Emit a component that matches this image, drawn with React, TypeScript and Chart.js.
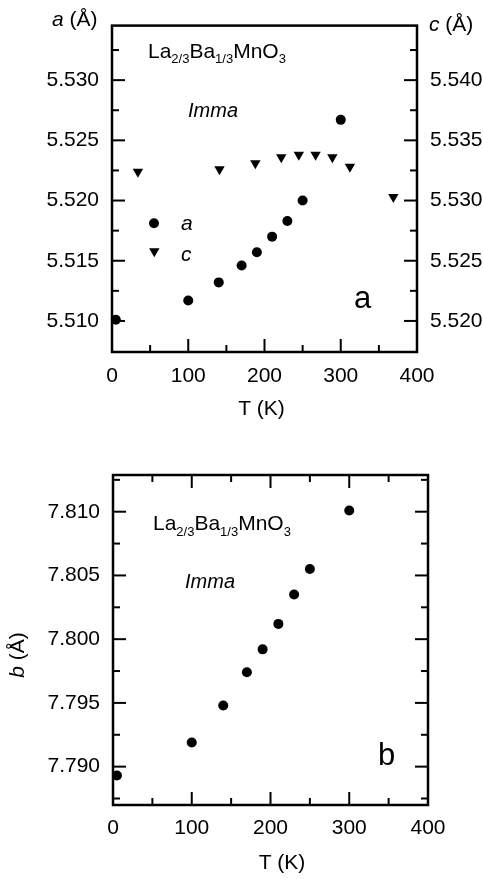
import React, { useEffect, useRef } from "react";
import { Chart, registerables } from "chart.js";

Chart.register(...registerables);

const FONT = '"Liberation Sans", Arial, Helvetica, sans-serif';

// ---- data ----
const temperatures = [5, 100, 140, 170, 190, 210, 230, 250, 300];
const latticeA = [5.5101, 5.5117, 5.5132, 5.5146, 5.5157, 5.517, 5.5183, 5.52, 5.5267];
const temperaturesC = [34, 141, 188, 222, 245, 267, 289, 312, 369];
const latticeC = [5.5324, 5.5326, 5.5331, 5.5336, 5.5338, 5.5338, 5.5336, 5.5328, 5.5303];
const latticeB = [7.7893, 7.7919, 7.7948, 7.7974, 7.7992, 7.8012, 7.8035, 7.8055, 7.8101];

const xTicks = [0, 100, 200, 300, 400];
const aTicks = [5.51, 5.515, 5.52, 5.525, 5.53];
const cTicks = [5.52, 5.525, 5.53, 5.535, 5.54];
const bTicks = [7.79, 7.795, 7.8, 7.805, 7.81];

const FS = 21;

type Seg = { t: string; italic?: boolean; size?: number; dy?: number };
type TextItem = { x: number; y: number; segs: Seg[]; align?: "left" | "center"; rotate?: boolean };
type Side = { scale: string; half: number } | null;

const segFont = (s: Seg) => `${s.italic ? "italic " : ""}${s.size || FS}px ${FONT}`;

function drawRich(ctx: CanvasRenderingContext2D, item: TextItem) {
  ctx.save();
  const widths = item.segs.map((s) => {
    ctx.font = segFont(s);
    return ctx.measureText(s.t).width;
  });
  const total = widths.reduce((a, b) => a + b, 0);
  ctx.translate(item.x, item.y);
  if (item.rotate) ctx.rotate(-Math.PI / 2);
  let x = item.align === "center" ? -total / 2 : 0;
  ctx.fillStyle = "#000";
  ctx.textAlign = "left";
  ctx.textBaseline = "alphabetic";
  item.segs.forEach((s, i) => {
    ctx.font = segFont(s);
    ctx.fillText(s.t, x, s.dy || 0);
    x += widths[i];
  });
  ctx.restore();
}

const formula = (): Seg[] => [
  { t: "La" },
  { t: "2/3", size: 13, dy: 5.5 },
  { t: "Ba" },
  { t: "1/3", size: 13, dy: 5.5 },
  { t: "MnO" },
  { t: "3", size: 13, dy: 5.5 },
];

const framePlugin = {
  id: "frameTicks",
  afterDraw(chart: any, _args: any, opts: any) {
    const ctx: CanvasRenderingContext2D = chart.ctx;
    const ca = chart.chartArea;
    const MAJ = 13;
    const MIN = 7;
    ctx.save();
    ctx.strokeStyle = "#000";
    ctx.lineWidth = 2;
    const sides: Record<string, Side> = opts.sides || {};
    Object.keys(sides).forEach((side) => {
      const cfg = sides[side];
      if (!cfg) return;
      const sc = chart.scales[cfg.scale];
      const k0 = Math.ceil(sc.min / cfg.half - 1e-6);
      const k1 = Math.floor(sc.max / cfg.half + 1e-6);
      for (let k = k0; k <= k1; k++) {
        const len = k % 2 === 0 ? MAJ : MIN;
        const p = sc.getPixelForValue(k * cfg.half);
        ctx.beginPath();
        if (side === "left" || side === "right") {
          if (p < ca.top + 2 || p > ca.bottom - 2) continue;
          const x0 = side === "left" ? ca.left : ca.right;
          const x1 = side === "left" ? ca.left + len : ca.right - len;
          ctx.moveTo(x0, p);
          ctx.lineTo(x1, p);
        } else {
          if (p < ca.left + 2 || p > ca.right - 2) continue;
          const y0 = side === "bottom" ? ca.bottom : ca.top;
          const y1 = side === "bottom" ? ca.bottom - len : ca.top + len;
          ctx.moveTo(p, y0);
          ctx.lineTo(p, y1);
        }
        ctx.stroke();
      }
    });
    ctx.lineWidth = 2.5;
    ctx.strokeRect(ca.left, ca.top, ca.right - ca.left, ca.bottom - ca.top);

    // legend markers
    (opts.markers || []).forEach((m: any) => {
      ctx.fillStyle = "#000";
      ctx.beginPath();
      if (m.kind === "circle") {
        ctx.arc(m.x, m.y, 5, 0, Math.PI * 2);
      } else {
        const r = 6;
        ctx.moveTo(m.x, m.y + r);
        ctx.lineTo(m.x - r * Math.sin(Math.PI / 3), m.y - r / 2);
        ctx.lineTo(m.x + r * Math.sin(Math.PI / 3), m.y - r / 2);
        ctx.closePath();
      }
      ctx.fill();
    });

    (opts.texts || []).forEach((t: TextItem) => drawRich(ctx, t));
    ctx.restore();
  },
};

function yScale(ticksArr: number[], min: number, max: number, position: string, width: number) {
  return {
    type: "linear",
    position,
    min,
    max,
    grid: { display: false, drawTicks: false },
    border: { display: false },
    afterBuildTicks: (s: any) => {
      s.ticks = ticksArr.map((v) => ({ value: v }));
    },
    afterFit: (s: any) => {
      s.width = width;
    },
    ticks: {
      color: "#000",
      padding: 13,
      font: { family: FONT, size: FS },
      callback: (v: any) => Number(v).toFixed(3),
    },
  };
}

function xScale(height: number, padding: number) {
  return {
    type: "linear",
    position: "bottom",
    min: 0,
    max: 400,
    grid: { display: false, drawTicks: false },
    border: { display: false },
    afterBuildTicks: (s: any) => {
      s.ticks = xTicks.map((v) => ({ value: v }));
    },
    afterFit: (s: any) => {
      s.height = height;
    },
    ticks: {
      color: "#000",
      padding,
      maxRotation: 0,
      font: { family: FONT, size: FS },
      callback: (v: any) => String(v),
    },
  };
}

function TopPanel() {
  const ref = useRef<HTMLCanvasElement | null>(null);
  useEffect(() => {
    if (!ref.current) return;
    const chart = new Chart(ref.current, {
      type: "scatter",
      data: {
        datasets: [
          {
            label: "a",
            data: temperatures.map((t, i) => ({ x: t, y: latticeA[i] })),
            yAxisID: "y",
            pointStyle: "circle",
            pointRadius: 5,
            pointBorderWidth: 0,
            backgroundColor: "#000",
            borderColor: "#000",
            clip: false,
          },
          {
            label: "c",
            data: temperaturesC.map((t, i) => ({ x: t, y: latticeC[i] })),
            yAxisID: "y2",
            pointStyle: "triangle",
            pointRotation: 180,
            pointRadius: 6,
            pointBorderWidth: 0,
            backgroundColor: "#000",
            borderColor: "#000",
            clip: false,
          },
        ],
      },
      options: {
        animation: false,
        responsive: false,
        devicePixelRatio: 1,
        layout: { padding: { top: 18, left: 0, right: 0, bottom: 0 } },
        scales: {
          x: xScale(88, 12),
          y: yScale(aTicks, 5.50742, 5.53453, "left", 112),
          y2: yScale(cTicks, 5.51742, 5.54453, "right", 66),
        } as any,
        plugins: {
          legend: { display: false },
          tooltip: { enabled: false },
          frameTicks: {
            sides: {
              left: { scale: "y", half: 0.0025 },
              right: { scale: "y2", half: 0.0025 },
              bottom: { scale: "x", half: 50 },
            },
            markers: [
              { kind: "circle", x: 154, y: 223.3 },
              { kind: "triangle", x: 154.3, y: 251.3 },
            ],
            texts: [
              { x: 148, y: 57.5, segs: formula() },
              { x: 188, y: 116.7, segs: [{ t: "Imma", italic: true, size: 20 }] },
              { x: 181, y: 230, segs: [{ t: "a", italic: true }] },
              { x: 181, y: 260.7, segs: [{ t: "c", italic: true }] },
              { x: 354, y: 308, segs: [{ t: "a", size: 31 }] },
              { x: 52, y: 26, segs: [{ t: "a", italic: true }, { t: " (Å)" }] },
              { x: 429, y: 31, segs: [{ t: "c", italic: true }, { t: " (Å)" }] },
              { x: 261.5, y: 415, align: "center", segs: [{ t: "T (K)" }] },
            ],
          },
        } as any,
      },
      plugins: [framePlugin],
    } as any);
    return () => chart.destroy();
  }, []);
  return <canvas ref={ref} width={483} height={440} style={{ display: "block", width: 483, height: 440 }} />;
}

function BottomPanel() {
  const ref = useRef<HTMLCanvasElement | null>(null);
  useEffect(() => {
    if (!ref.current) return;
    const chart = new Chart(ref.current, {
      type: "scatter",
      data: {
        datasets: [
          {
            label: "b",
            data: temperatures.map((t, i) => ({ x: t, y: latticeB[i] })),
            yAxisID: "y",
            pointStyle: "circle",
            pointRadius: 5,
            pointBorderWidth: 0,
            backgroundColor: "#000",
            borderColor: "#000",
            clip: false,
          },
        ],
      },
      options: {
        animation: false,
        responsive: false,
        devicePixelRatio: 1,
        layout: { padding: { top: 35, left: 0, right: 55, bottom: 0 } },
        scales: {
          x: xScale(74, 11),
          y: yScale(bTicks, 7.78699, 7.81288, "left", 113),
        } as any,
        plugins: {
          legend: { display: false },
          tooltip: { enabled: false },
          frameTicks: {
            sides: {
              left: { scale: "y", half: 0.0025 },
              right: { scale: "y", half: 0.0025 },
              bottom: { scale: "x", half: 50 },
              top: { scale: "x", half: 50 },
            },
            texts: [
              { x: 153, y: 90, segs: formula() },
              { x: 185, y: 148, segs: [{ t: "Imma", italic: true, size: 20 }] },
              { x: 378, y: 325, segs: [{ t: "b", size: 31 }] },
              { x: 24, y: 215, rotate: true, align: "center", segs: [{ t: "b", italic: true }, { t: " (Å)" }] },
              { x: 282, y: 429, align: "center", segs: [{ t: "T (K)" }] },
            ],
          },
        } as any,
      },
      plugins: [framePlugin],
    } as any);
    return () => chart.destroy();
  }, []);
  return <canvas ref={ref} width={483} height={439} style={{ display: "block", width: 483, height: 439 }} />;
}

export default function App() {
  return (
    <div style={{ position: "absolute", left: 0, top: 0, width: 483, height: 879, background: "#fff" }}>
      <TopPanel />
      <BottomPanel />
    </div>
  );
}
